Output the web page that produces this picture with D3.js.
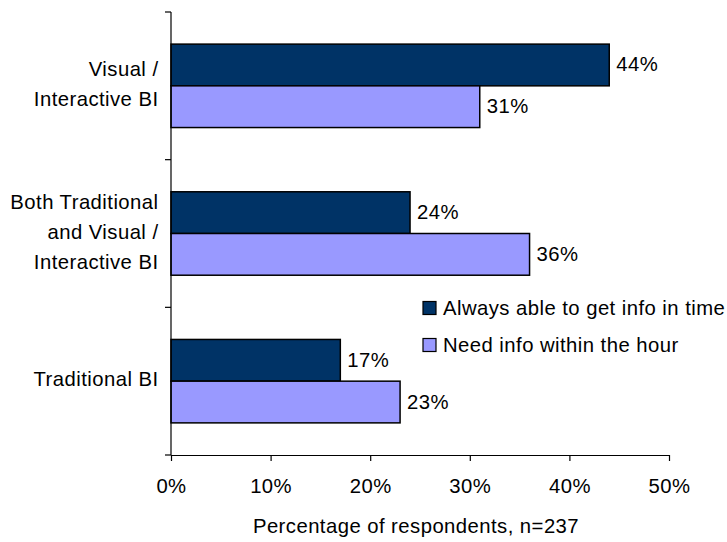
<!DOCTYPE html>
<html>
<head>
<meta charset="utf-8">
<script src="https://cdn.jsdelivr.net/npm/d3@7"></script>
<style>
  html, body { margin: 0; padding: 0; background: #fff; }
  svg text { font-family: "Liberation Sans", Arial, sans-serif; fill: #000; letter-spacing: 0.45px; }
</style>
</head>
<body>
<svg id="chart" width="727" height="542"></svg>
<script>
// Categories (top to bottom) with their label lines
const categories = ["Visual / Interactive BI", "Both Traditional and Visual / Interactive BI", "Traditional BI"];
const categoryLines = [["Visual /", "Interactive BI"], ["Both Traditional", "and Visual /", "Interactive BI"], ["Traditional BI"]];

// Series
const seriesNames = ["Always able to get info in time", "Need info within the hour"];
const seriesColors = ["#003366", "#9999FF"];
const alwaysAble = [44, 24, 17];
const needWithinHour = [31, 36, 23];

// Axis ticks
const xTicks = [0, 10, 20, 30, 40, 50];
const xTitle = "Percentage of respondents, n=237";

const series = [alwaysAble, needWithinHour];
const FONT = 20.3;

const svg = d3.select("#chart");

const x = d3.scaleLinear().domain([0, 50]).range([171, 669]);
const y0 = d3.scaleBand().domain(categories).range([12, 455])
  .paddingInner(0.435).paddingOuter(0.2175);
const y1 = d3.scaleBand().domain(seriesNames).range([0, y0.bandwidth()]);

// Bars
const groups = svg.append("g").selectAll("g")
  .data(categories)
  .join("g")
  .attr("transform", d => `translate(0,${y0(d)})`);

groups.each(function (cat, ci) {
  const g = d3.select(this);
  seriesNames.forEach((s, si) => {
    const v = series[si][ci];
    g.append("rect")
      .attr("x", x(0))
      .attr("y", y1(s))
      .attr("width", x(v) - x(0))
      .attr("height", y1.bandwidth())
      .attr("fill", seriesColors[si])
      .attr("stroke", "#000")
      .attr("stroke-width", 1.5);
    g.append("text")
      .attr("x", x(v) + 7)
      .attr("y", y1(s) + y1.bandwidth() / 2 + 6.5)
      .attr("font-size", FONT)
      .text(v + "%");
  });
});

// Y axis: line plus ticks at band boundaries
const yAxis = svg.append("g");
yAxis.append("line")
  .attr("x1", x(0)).attr("x2", x(0))
  .attr("y1", 12).attr("y2", 455)
  .attr("stroke", "#000").attr("stroke-width", 1.2);
const boundaries = categories.map(c => y0(c) - y0.step() * y0.paddingOuter()).concat([455]);
yAxis.selectAll("line.tick")
  .data(boundaries)
  .join("line")
  .attr("class", "tick")
  .attr("x1", x(0) - 6).attr("x2", x(0))
  .attr("y1", d => d).attr("y2", d => d)
  .attr("stroke", "#000").attr("stroke-width", 1.2);

// Category labels
const LINE_H = 30;
categories.forEach((c, i) => {
  const lines = categoryLines[i];
  const cy = y0(c) + y0.bandwidth() / 2 + 5;
  const t = svg.append("text")
    .attr("text-anchor", "end")
    .attr("font-size", FONT);
  lines.forEach((ln, li) => {
    t.append("tspan")
      .attr("x", 158.5)
      .attr("y", cy + (li - (lines.length - 1) / 2) * LINE_H)
      .text(ln);
  });
});

// X axis
const xAxis = d3.axisBottom(x)
  .tickValues(xTicks)
  .tickFormat(d => d + "%")
  .tickSize(6)
  .tickSizeOuter(0);
const gx = svg.append("g")
  .attr("transform", "translate(0,455)")
  .call(xAxis);
gx.select(".domain").attr("stroke", "#000").attr("stroke-width", 1.2);
gx.selectAll(".tick line").attr("stroke", "#000").attr("stroke-width", 1.2);
gx.selectAll(".tick text")
  .attr("font-size", FONT)
  .attr("font-family", "Liberation Sans, Arial, sans-serif")
  .attr("fill", "#000")
  .attr("dy", null)
  .attr("y", 38);

// X axis title
svg.append("text")
  .attr("x", 416)
  .attr("y", 533)
  .attr("text-anchor", "middle")
  .attr("font-size", FONT)
  .text(xTitle);

// Legend
const legend = svg.append("g");
seriesNames.forEach((s, i) => {
  const ly = 301.5 + i * 37;
  legend.append("rect")
    .attr("x", 423).attr("y", ly)
    .attr("width", 13).attr("height", 13)
    .attr("fill", seriesColors[i])
    .attr("stroke", "#000").attr("stroke-width", 1.2);
  legend.append("text")
    .attr("x", 443).attr("y", ly + 13)
    .attr("font-size", FONT)
    .text(s);
});
</script>
</body>
</html>
